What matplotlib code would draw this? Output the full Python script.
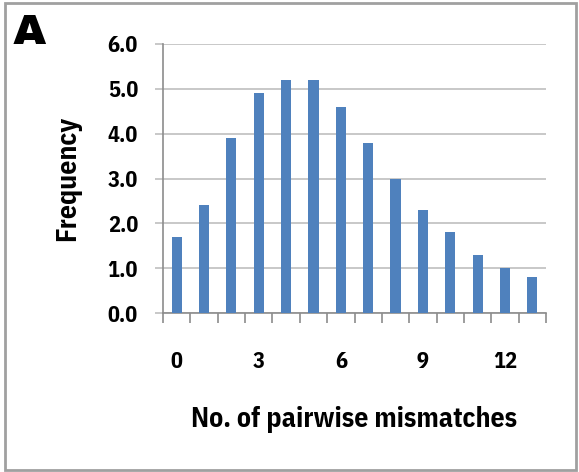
import matplotlib
matplotlib.use("Agg")
import matplotlib.pyplot as plt
from matplotlib.patches import Rectangle
from matplotlib.ticker import FixedLocator
import logging
logging.getLogger('matplotlib.font_manager').setLevel(logging.ERROR)

# mismatch distribution
mismatches = list(range(14))
frequency = [1.7, 2.4, 3.9, 4.9, 5.2, 5.2, 4.6, 3.8, 3.0, 2.3, 1.8, 1.3, 1.0, 0.8]
x_labels = [0, 3, 6, 9, 12]
y_ticks = [0.0, 1.0, 2.0, 3.0, 4.0, 5.0, 6.0]

narrow = ['IBM Plex Sans Condensed', 'DejaVu Sans']
plt.rcParams['font.family'] = narrow

fig = plt.figure(figsize=(5.79, 4.72), dpi=100)
ax = fig.add_axes([163/579, 1 - 313/472, (546-163)/579, (313-44)/472])

ax.bar(mismatches, frequency, width=0.37, color='#4F81BD', zorder=3)

ax.set_xlim(-0.5, 13.5)
ax.set_ylim(0, 6)
ax.set_yticks(y_ticks)
ax.set_yticklabels(["%.1f" % v for v in y_ticks], fontsize=16, fontweight='bold')
ax.yaxis.grid(True, color='#BFBFBF', linewidth=1.2, zorder=0)

ax.set_xticks(x_labels)
ax.set_xticklabels([str(v) for v in x_labels], fontsize=16, fontweight='bold')
ax.xaxis.set_minor_locator(FixedLocator([i - 0.5 for i in range(15)]))
ax.tick_params(axis='x', which='major', length=0, pad=27)
ax.tick_params(axis='x', which='minor', length=7, width=1.2, color='#8C8C8C', direction='out')
ax.tick_params(axis='y', length=6, width=1.2, color='#BFBFBF', pad=12)

for s in ['top', 'right']:
    ax.spines[s].set_visible(False)
ax.spines['left'].set_color('#8C8C8C')
ax.spines['bottom'].set_color('#8C8C8C')
ax.spines['left'].set_linewidth(1.2)
ax.spines['bottom'].set_linewidth(1.2)

ax.set_ylabel('Frequency', fontsize=20, fontweight='bold', labelpad=19)
ax.set_xlabel('No. of pairwise mismatches', fontsize=20, fontweight='bold', labelpad=25)

fig.text(13/579, 1 - 32/472, 'A', fontsize=31, fontweight=900,
         family=['Archivo Black', 'Lato', 'DejaVu Sans'], va='center')

# outer frame
fig.patches.append(Rectangle((5/579, 2/472), 571/579, 467/472, transform=fig.transFigure,
                             fill=False, edgecolor='#A0A0A0', linewidth=2))

fig.savefig('out.png', dpi=100)
